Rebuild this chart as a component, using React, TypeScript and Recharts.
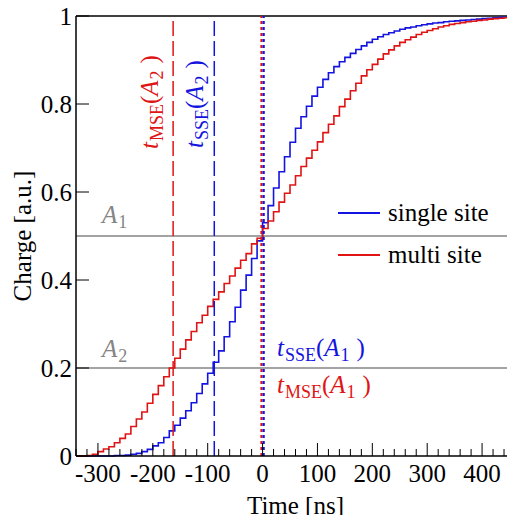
import React from "react";
import { LineChart, Line, XAxis, YAxis, ReferenceLine, Legend, Label } from "recharts";

// histogram binning (10 ns bins starting at -340 ns)
const binStart = -340;
const binWidth = 10;

// cumulative charge per bin
const singleSite = [
  0, 0, 0, 0, 0, 0, 0, 0.001, 0.001, 0.002,
  0.004, 0.006, 0.01, 0.015, 0.023, 0.03, 0.042, 0.057, 0.07, 0.086,
  0.103, 0.121, 0.142, 0.164, 0.188, 0.213, 0.239, 0.271, 0.305, 0.338,
  0.377, 0.411, 0.449, 0.489, 0.53, 0.569, 0.609, 0.646, 0.68, 0.713,
  0.745, 0.771, 0.795, 0.818, 0.838, 0.856, 0.871, 0.885, 0.896, 0.906,
  0.915, 0.924, 0.932, 0.94, 0.947, 0.953, 0.958, 0.962, 0.966, 0.97,
  0.973, 0.975, 0.978, 0.98, 0.982, 0.984, 0.985, 0.987, 0.988, 0.989,
  0.99, 0.991, 0.992, 0.993, 0.994, 0.995, 0.996, 0.997, 0.997, 0.998,
];

const multiSite = [
  0, 0, 0.001, 0.004, 0.01, 0.016, 0.021, 0.03, 0.04, 0.05,
  0.067, 0.084, 0.1, 0.12, 0.14, 0.16, 0.18, 0.2, 0.222, 0.243,
  0.264, 0.283, 0.303, 0.32, 0.34, 0.356, 0.373, 0.392, 0.409, 0.427,
  0.445, 0.46, 0.482, 0.495, 0.517, 0.534, 0.555, 0.577, 0.597, 0.616,
  0.637, 0.658, 0.677, 0.695, 0.714, 0.735, 0.754, 0.773, 0.794, 0.811,
  0.83, 0.847, 0.864, 0.878, 0.89, 0.902, 0.914, 0.923, 0.932, 0.94,
  0.946, 0.952, 0.958, 0.963, 0.967, 0.971, 0.975, 0.978, 0.981, 0.983,
  0.985, 0.987, 0.988, 0.99, 0.991, 0.993, 0.994, 0.995, 0.996, 0.997,
];

const seriesNames = ["single site", "multi site"];

const xTicks = [
  -340, -320, -300, -280, -260, -240, -220, -200, -180, -160, -140, -120, -100, -80, -60, -40, -20,
  0, 20, 40, 60, 80, 100, 120, 140, 160, 180, 200, 220, 240, 260, 280, 300, 320, 340, 360, 380, 400, 420, 440, 460,
];
const yTicks = [0, 0.2, 0.4, 0.6, 0.8, 1];

// thresholds A1, A2 and the times where they are crossed
const A1 = 0.5;
const A2 = 0.2;
const tMSE_A2 = -163;
const tSSE_A2 = -88;
const tMSE_A1 = -2;
const tSSE_A1 = 2;

const RED = "#e01414";
const BLUE = "#1414e0";
const GRAY = "#858585";
const FONT = "Liberation Serif, Times New Roman, Times, serif";

const data = singleSite.map((v, i) => ({ t: binStart + i * binWidth, single: v, multi: multiSite[i] }));
// closing edge of the last bin
data.push({
  t: binStart + singleSite.length * binWidth,
  single: singleSite[singleSite.length - 1],
  multi: multiSite[multiSite.length - 1],
});

const XTick = (props: any) => {
  const { x, y, payload } = props;
  const major = payload.value % 100 === 0;
  return (
    <g>
      <line x1={x} x2={x} y1={y} y2={y - (major ? 13 : 7)} stroke="#000" strokeWidth={1} />
      {major && (
        <text x={x} y={y + 26} textAnchor="middle" fontSize={25} fill="#000" fontFamily={FONT}>
          {payload.value}
        </text>
      )}
    </g>
  );
};

const YTick = (props: any) => {
  const { x, y, payload } = props;
  return (
    <g>
      <line x1={x} x2={x + 13} y1={y} y2={y} stroke="#000" strokeWidth={1} />
      <text x={x - 4} y={y + 8.5} textAnchor="end" fontSize={25} fill="#000" fontFamily={FONT}>
        {payload.value}
      </text>
    </g>
  );
};

const legendColors = [BLUE, RED];

const renderLegend = () => (
  <div style={{ fontFamily: FONT }}>
    {seriesNames.map((name, i) => (
      <div key={name} style={{ display: "flex", alignItems: "center", height: 42 }}>
        <div style={{ width: 42, height: 1.6, background: legendColors[i], marginRight: 8 }} />
        <span style={{ fontSize: 25, color: "#000" }}>{name}</span>
      </div>
    ))}
  </div>
);

const sub = { fontSize: 18, position: "relative" as const, top: 5, marginLeft: 1 };

function TLabel({ s, a, color, style }: any) {
  return (
    <div
      style={{
        position: "absolute",
        color,
        fontSize: 25,
        lineHeight: 1,
        whiteSpace: "nowrap",
        fontFamily: FONT,
        ...style,
      }}
    >
      <i>t</i>
      <span style={sub}>{s}</span>(<i>A</i>
      <span style={sub}>{a}</span>
      <span style={{ marginLeft: 7 }}>)</span>
    </div>
  );
}

function ALabel({ a, style }: any) {
  return (
    <div style={{ position: "absolute", color: GRAY, fontSize: 25, lineHeight: 1, fontFamily: FONT, ...style }}>
      <i>A</i>
      <span style={sub}>{a}</span>
    </div>
  );
}

const rotated = { transform: "rotate(-90deg)", transformOrigin: "0 0" };

export default function App() {
  return (
    <div style={{ position: "relative", width: 515, height: 523, margin: -8, fontFamily: FONT }}>
      <LineChart width={515} height={523} data={data} margin={{ top: 16, right: 0, bottom: 8, left: 0 }}>
        <XAxis
          dataKey="t"
          type="number"
          domain={[-340, 460]}
          ticks={xTicks}
          interval={0}
          tick={<XTick />}
          tickLine={false}
          tickSize={0}
          tickMargin={0}
          height={59}
          axisLine={{ stroke: "#000", strokeWidth: 1.5 }}
          allowDataOverflow
        >
          <Label
            content={(p: any) => (
              <text
                x={p.viewBox.x + p.viewBox.width / 2}
                y={p.viewBox.y + 58}
                textAnchor="middle"
                fontSize={25}
                fill="#000"
                fontFamily={FONT}
              >
                Time [ns]
              </text>
            )}
          />
        </XAxis>
        <YAxis
          type="number"
          domain={[0, 1]}
          ticks={yTicks}
          interval={0}
          tick={<YTick />}
          tickLine={false}
          tickSize={0}
          tickMargin={0}
          width={76}
          axisLine={{ stroke: "#000", strokeWidth: 1.5 }}
        >
          <Label
            content={(p: any) => {
              const cx = p.viewBox.x + 31;
              const cy = p.viewBox.y + p.viewBox.height / 2;
              return (
                <text
                  x={cx}
                  y={cy}
                  transform={`rotate(-90, ${cx}, ${cy})`}
                  textAnchor="middle"
                  fontSize={25}
                  fill="#000"
                  fontFamily={FONT}
                >
                  Charge [a.u.]
                </text>
              );
            }}
          />
        </YAxis>

        <ReferenceLine y={1} stroke="#000" strokeWidth={1.5} />
        <ReferenceLine y={A1} stroke={GRAY} strokeWidth={1.5} />
        <ReferenceLine y={A2} stroke={GRAY} strokeWidth={1.5} />

        <Line
          type="stepAfter"
          dataKey="single"
          name={seriesNames[0]}
          stroke={BLUE}
          strokeWidth={1.6}
          dot={false}
          isAnimationActive={false}
        />
        <Line
          type="stepAfter"
          dataKey="multi"
          name={seriesNames[1]}
          stroke={RED}
          strokeWidth={1.6}
          dot={false}
          isAnimationActive={false}
        />

        <ReferenceLine x={tMSE_A2} stroke={RED} strokeWidth={1.5} strokeDasharray="15 5" />
        <ReferenceLine x={tSSE_A2} stroke={BLUE} strokeWidth={1.5} strokeDasharray="15 5" />
        <ReferenceLine x={tMSE_A1} stroke={RED} strokeWidth={2.2} strokeDasharray="3 3" />
        <ReferenceLine x={tSSE_A1} stroke={BLUE} strokeWidth={2.2} strokeDasharray="3 3" />

        <Legend
          layout="vertical"
          align="center"
          verticalAlign="middle"
          content={renderLegend}
          wrapperStyle={{ left: 338, top: 192, width: 180 }}
        />
      </LineChart>

      <ALabel a="1" style={{ left: 102, top: 202 }} />
      <ALabel a="2" style={{ left: 102, top: 336 }} />
      <TLabel s="SSE" a="1" color={BLUE} style={{ left: 277, top: 335 }} />
      <TLabel s="MSE" a="1" color={RED} style={{ left: 277, top: 372 }} />
      <TLabel s="MSE" a="2" color={RED} style={{ left: 137, top: 149, ...rotated }} />
      <TLabel s="SSE" a="2" color={BLUE} style={{ left: 182, top: 148, ...rotated }} />
    </div>
  );
}
